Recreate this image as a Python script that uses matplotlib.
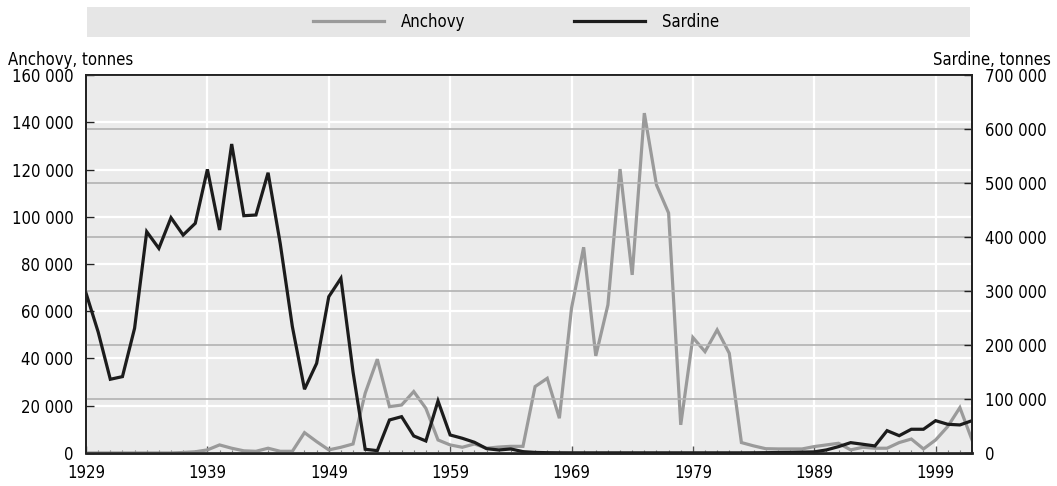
import numpy as np
import matplotlib
matplotlib.use("Agg")
import matplotlib.pyplot as plt
from matplotlib.patches import Rectangle
from matplotlib.lines import Line2D
from matplotlib.ticker import FuncFormatter, MultipleLocator

plt.rcParams['font.family'] = ['DejaVu Sans']
plt.rcParams['font.stretch'] = 'condensed'

years = np.arange(1929, 2003)

# anchovy catch, tonnes (left axis)
anchovy = [0, 0, 0, 0, 0, 0, 0, 0, 200, 500,
           1300, 3400, 2000, 900, 700, 2000, 700, 700, 8600, 4800,
           1300, 2400, 3800, 25300, 39700, 19600, 20300, 26000, 18900, 5500,
           3400, 2400, 3800, 2000, 2500, 2800, 2800, 28100, 31600, 14700,
           61300, 87100, 41100, 62700, 120200, 75400, 143900, 113500, 101600, 11900,
           48900, 42900, 52100, 42200, 4400, 3000, 1800, 1700, 1700, 1700,
           2700, 3400, 4100, 1300, 2400, 2000, 2000, 4400, 5900, 1700,
           5500, 11200, 19200, 5500]

# sardine catch, tonnes (right axis)
sardine = [296000, 224000, 136500, 141400, 231000, 409900, 379000, 435800, 403700, 425400,
           525400, 413000, 572300, 439500, 440800, 519100, 388000, 234000, 118000, 166000,
           289500, 323500, 150000, 6800, 4300, 61100, 67200, 31500, 22200, 96300,
           33300, 27200, 19800, 8000, 5500, 7400, 2400, 1000, 500, 300,
           200, 200, 200, 200, 200, 200, 200, 200, 200, 200,
           200, 200, 200, 200, 200, 300, 500, 800, 1000, 1500,
           2000, 5600, 11700, 19100, 16100, 13000, 41300, 32000, 43900, 43900,
           59800, 53100, 51900, 59800]

anchovy_ticks = np.arange(0, 160001, 20000)
sardine_ticks = np.arange(0, 700001, 100000)
year_ticks = np.arange(1929, 2000, 10)


def spaced(v, pos):
    return "{:,}".format(int(v)).replace(",", " ")


fig = plt.figure(figsize=(10.57, 4.86), dpi=100)
ax = fig.add_axes([0.0814, 0.068, 0.8382, 0.7775])
ax2 = ax.twinx()

ax.set_facecolor('#ebebeb')
ax2.patch.set_visible(False)

# left axis: anchovy
ax.plot(years, anchovy, color='#9a9a9a', lw=2.3, solid_joinstyle='miter')
ax.set_ylim(0, 160000)
ax.set_yticks(anchovy_ticks)
ax.yaxis.set_major_formatter(FuncFormatter(spaced))
ax.set_xlim(1929, 2002)
ax.set_xticks(year_ticks)
ax.xaxis.set_minor_locator(MultipleLocator(1))
ax.grid(True, which='major', color='white', lw=1.6, zorder=0)
ax.set_axisbelow(True)

# right axis: sardine
ax2.plot(years, sardine, color='#1c1c1c', lw=2.3, solid_joinstyle='miter')
ax2.set_ylim(0, 700000)
ax2.set_yticks(sardine_ticks)
ax2.yaxis.set_major_formatter(FuncFormatter(spaced))
ax2.grid(True, axis='y', color='#b2b2b2', lw=1.2)

for a in (ax, ax2):
    for s in a.spines.values():
        s.set_color('#222222')
        s.set_linewidth(1.3)
    a.spines['bottom'].set_linewidth(1.8)

ax.tick_params(axis='y', direction='in', length=6, width=1, color='#222222',
               labelsize=12, pad=9)
ax.tick_params(axis='x', which='major', direction='in', length=5, width=1,
               color='#555555', labelsize=12, pad=8)
ax.tick_params(axis='x', which='minor', direction='in', length=2.5, width=0.8,
               color='#777777')
ax2.tick_params(axis='y', direction='in', length=6, width=1, color='#222222',
                labelsize=12, pad=9)

fig.text(0.008, 0.877, 'Anchovy, tonnes', fontsize=12, ha='left', va='center')
fig.text(0.994, 0.877, 'Sardine, tonnes', fontsize=12, ha='right', va='center')

# legend band
fig.patches.append(Rectangle((0.082, 0.924), 0.836, 0.062, transform=fig.transFigure,
                             facecolor='#e6e6e6', edgecolor='none', zorder=0))
handles = [Line2D([], [], color='#9a9a9a', lw=2.3),
           Line2D([], [], color='#1c1c1c', lw=2.3)]
fig.legend(handles, ['Anchovy', 'Sardine'], loc='center', bbox_to_anchor=(0.488, 0.955),
           ncol=2, frameon=False, fontsize=12, handlelength=4.3, columnspacing=6.5,
           handletextpad=1.0)

fig.savefig('out.png', dpi=100)
